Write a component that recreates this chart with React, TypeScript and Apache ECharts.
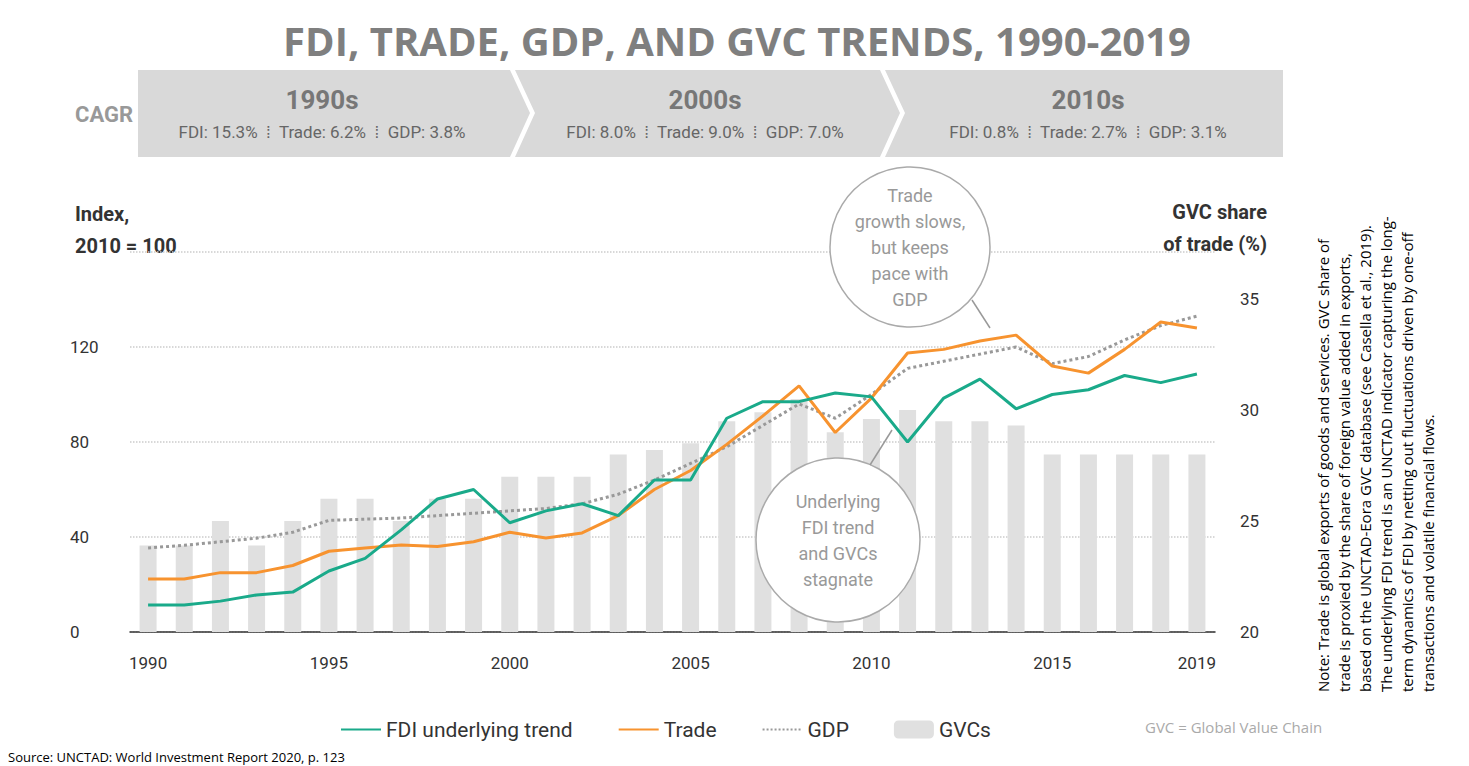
import { useEffect, useRef } from 'react';
import * as echarts from 'echarts';

const years = ['1990','1991','1992','1993','1994','1995','1996','1997','1998','1999','2000','2001','2002','2003','2004','2005','2006','2007','2008','2009','2010','2011','2012','2013','2014','2015','2016','2017','2018','2019'];
const fdi = [11.4,11.4,13,15.6,16.8,25.7,31,43,56,60,46,51,54,49,64,64,90,97,97,100.6,99,80,98.5,106.5,94,100,102,108,105,108.6];
const trade = [22.3,22.3,25,25,28,34,35.4,36.6,36,38,42,39.6,41.7,49,60,68,79,91,103.6,84,98.5,117.5,119,122.5,125,112,109,119,130.5,128];
const gdp = [35.4,36.5,38,39.5,42,47,47.5,48,49,50,51,52,54,58,64,71,78,87,96,90,100,111,114,117,120,113,116,123,129,133];
const gvc = [23.9,23.9,25,23.9,25,26,26,25,26,26,27,27,27,28,28.2,28.5,29.5,29.9,30.5,29,29.6,30,29.5,29.5,29.3,28,28,28,28,28];
const shownYears = ['1990','1995','2000','2005','2010','2015','2019'];

const note = 'Note: Trade is global exports of goods and services. GVC share of\ntrade is proxied by the share of foreign value added in exports,\nbased on the UNCTAD-Eora GVC database (see Casella et al., 2019).\nThe underlying FDI trend is an UNCTAD indicator capturing the long-\nterm dynamics of FDI by netting out fluctuations driven by one-off\ntransactions and volatile financial flows.';

const narrow = '"Liberation Sans Narrow", "Roboto", sans-serif';
const band = '#d9d9d9';

const App = () => {
  const chartDom = useRef<HTMLDivElement | null>(null);

  useEffect(() => {
    document.body.style.margin = '0';
    if (!chartDom.current) return;
    const myChart = echarts.init(chartDom.current, null, { renderer: 'svg' });
    const banner = (x: number, name: string, sub: string) => [
      { type: 'text', x, y: 100, style: { text: name, fill: '#777', font: `bold 26px ${narrow}`, align: 'center', verticalAlign: 'middle' } },
      { type: 'text', x, y: 132, style: { text: sub, fill: '#666', font: `17px ${narrow}`, align: 'center', verticalAlign: 'middle' } },
    ];
    myChart.setOption({
      animation: false,
      textStyle: { fontFamily: narrow },
      grid: { left: 130, right: 254, top: 252, bottom: 134 },
      xAxis: {
        type: 'category',
        data: years,
        axisTick: { show: false },
        axisLine: { lineStyle: { color: '#333', width: 1.5 } },
        axisLabel: {
          interval: (_i: number, v: string) => shownYears.includes(v),
          color: '#333', fontSize: 17, margin: 22, fontFamily: narrow,
        },
      },
      yAxis: [
        {
          type: 'value', min: 0, max: 160, interval: 40,
          axisLine: { show: false }, axisTick: { show: false },
          axisLabel: { color: '#333', fontSize: 17, margin: 60, align: 'left', fontFamily: narrow, formatter: (v: number) => (v === 160 ? '' : String(v)) },
          splitLine: { lineStyle: { color: '#ccc', type: 'dotted', width: 1.5 } },
        },
        {
          type: 'value', min: 20, max: 37.12, interval: 5,
          axisLine: { show: false }, axisTick: { show: false }, splitLine: { show: false },
          axisLabel: { color: '#333', fontSize: 17, margin: 25, fontFamily: narrow, formatter: (v: number) => (v % 5 === 0 ? String(v) : '') },
        },
      ],
      legend: {
        left: 335, top: 714, itemWidth: 40, itemHeight: 18, itemGap: 45,
        textStyle: { color: '#333', fontSize: 21, fontFamily: narrow },
        itemStyle: { opacity: 0 },
        data: ['FDI underlying trend', 'Trade', 'GDP', { name: 'GVCs', itemStyle: { opacity: 1 } }],
      },
      series: [
        { name: 'GVCs', type: 'bar', yAxisIndex: 1, data: gvc, barWidth: 17, itemStyle: { color: '#e0e0e0' } },
        { name: 'GDP', type: 'line', data: gdp, symbol: 'none', lineStyle: { color: '#999', width: 3, type: 'dotted' }, itemStyle: { color: '#999' } },
        { name: 'Trade', type: 'line', data: trade, symbol: 'none', lineStyle: { color: '#f7932f', width: 3 }, itemStyle: { color: '#f7932f' } },
        { name: 'FDI underlying trend', type: 'line', data: fdi, symbol: 'none', lineStyle: { color: '#1aaa8a', width: 3 }, itemStyle: { color: '#1aaa8a' } },
      ],
      graphic: [
        { type: 'text', x: 737, y: 40, style: { text: 'FDI, TRADE, GDP, AND GVC TRENDS, 1990-2019', fill: '#7f7f7f', font: 'bold 40px "Open Sans", sans-serif', align: 'center', verticalAlign: 'middle' } },
        { type: 'polygon', shape: { points: [[138, 70], [510, 70], [530, 113], [510, 157], [138, 157]] }, style: { fill: band } },
        { type: 'polygon', shape: { points: [[515, 70], [880, 70], [900, 113], [880, 157], [515, 157], [535, 113]] }, style: { fill: band } },
        { type: 'polygon', shape: { points: [[885, 70], [1283, 70], [1283, 157], [885, 157], [905, 113]] }, style: { fill: band } },
        { type: 'text', x: 75, y: 114, style: { text: 'CAGR', fill: '#999', font: `bold 22px ${narrow}`, verticalAlign: 'middle' } },
        ...banner(322, '1990s', 'FDI: 15.3%  ⁞  Trade: 6.2%  ⁞  GDP: 3.8%'),
        ...banner(705, '2000s', 'FDI: 8.0%  ⁞  Trade: 9.0%  ⁞  GDP: 7.0%'),
        ...banner(1088, '2010s', 'FDI: 0.8%  ⁞  Trade: 2.7%  ⁞  GDP: 3.1%'),
        { type: 'text', x: 75, y: 198, style: { text: 'Index,\n2010 = 100', fill: '#333', font: `bold 20px ${narrow}`, lineHeight: 32 } },
        { type: 'text', x: 1267, y: 196, style: { text: 'GVC share\nof trade (%)', fill: '#333', font: `bold 20px ${narrow}`, lineHeight: 32, align: 'right' } },
        { type: 'circle', z: 100, shape: { cx: 910, cy: 247, r: 80 }, style: { fill: '#fff', stroke: '#aaa', lineWidth: 1.5 } },
        { type: 'text', z: 101, x: 910, y: 247, style: { text: 'Trade\ngrowth slows,\nbut keeps\npace with\nGDP', fill: '#999', font: `18px ${narrow}`, lineHeight: 26, align: 'center', verticalAlign: 'middle' } },
        { type: 'line', z: 100, shape: { x1: 972, y1: 300, x2: 990, y2: 328 }, style: { stroke: '#999', lineWidth: 1.5 } },
        { type: 'circle', z: 100, shape: { cx: 838, cy: 540, r: 82 }, style: { fill: '#fff', stroke: '#aaa', lineWidth: 1.5 } },
        { type: 'text', z: 101, x: 838, y: 540, style: { text: 'Underlying\nFDI trend\nand GVCs\nstagnate', fill: '#999', font: `18px ${narrow}`, lineHeight: 26, align: 'center', verticalAlign: 'middle' } },
        { type: 'line', z: 100, shape: { x1: 870, y1: 465, x2: 892, y2: 430 }, style: { stroke: '#999', lineWidth: 1.5 } },
        { type: 'text', x: 1312, y: 692, rotation: Math.PI / 2, style: { text: note, fill: '#000', font: '15px "Open Sans", sans-serif', lineHeight: 21, align: 'left', verticalAlign: 'top' } },
        { type: 'text', x: 1145, y: 727, style: { text: 'GVC = Global Value Chain', fill: '#aaa', font: '15px "Open Sans", sans-serif', verticalAlign: 'middle' } },
        { type: 'text', x: 8, y: 757, style: { text: 'Source: UNCTAD: World Investment Report 2020, p. 123', fill: '#000', font: '13px "Open Sans", sans-serif', verticalAlign: 'middle' } },
      ],
    });
    return () => {
      myChart.dispose();
    };
  }, []);

  return <div ref={chartDom} style={{ width: 1469, height: 766, background: '#fff' }} />;
};

export default App;
